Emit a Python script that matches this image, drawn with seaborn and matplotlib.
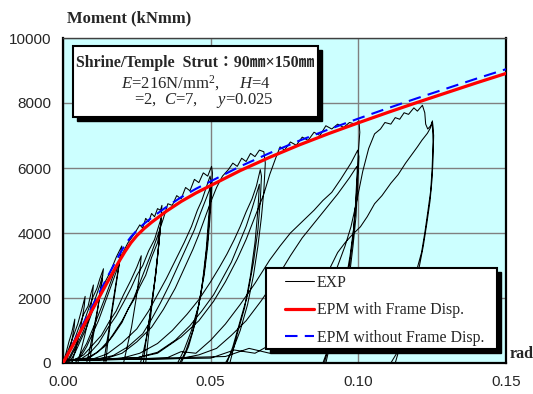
import numpy as np
import pandas as pd
import matplotlib
matplotlib.use("Agg")
import matplotlib.pyplot as plt
from matplotlib.patches import Rectangle
import seaborn as sns

# ---------------- data ----------------
x_ticks = [0.00, 0.05, 0.10, 0.15]
x_tick_labels = ["0.00", "0.05", "0.10", "0.15"]
y_ticks = [0, 2000, 4000, 6000, 8000, 10000]
y_tick_labels = ["0", "2000", "4000", "6000", "8000", "10000"]

# EPM with frame displacement (red)
epm_with_x = [0.0, 0.005, 0.010, 0.015, 0.019, 0.021, 0.023, 0.025, 0.0275, 0.030, 0.035, 0.040,
              0.045, 0.050, 0.060, 0.070, 0.080, 0.090, 0.100, 0.110, 0.120, 0.130, 0.140, 0.150]
epm_with_m = [0, 820, 1650, 2480, 3130, 3430, 3700, 3920, 4140, 4330, 4670, 4970,
              5230, 5460, 5920, 6330, 6710, 7060, 7390, 7710, 8020, 8320, 8620, 8910]

# EPM without frame displacement (blue dashed)
epm_wo_x = [0.0, 0.005, 0.010, 0.015, 0.019, 0.021, 0.023, 0.025, 0.0275, 0.030, 0.035, 0.040,
            0.045, 0.050, 0.060, 0.070, 0.080, 0.090, 0.100, 0.110, 0.120, 0.130, 0.140, 0.150]
epm_wo_m = [0, 880, 1760, 2640, 3320, 3640, 3880, 4080, 4290, 4470, 4800, 5100,
            5360, 5590, 6050, 6460, 6840, 7190, 7520, 7840, 8150, 8450, 8750, 9040]

# EXP : cyclic test record, small cycles
exp_c1_x = [0.000, 0.001, 0.002, 0.003, 0.004, 0.0038, 0.003, 0.002, 0.001, -0.002,
            -0.001, 0.001, 0.003, 0.005, 0.0065, 0.0075, 0.0072, 0.006, 0.0045, 0.003, -0.002]
exp_c1_m = [0, 300, 650, 950, 1350, 1100, 700, 300, 0, -900,
            -300, 200, 700, 1200, 1700, 2050, 1750, 1100, 500, 0, -900]

exp_c2_x = [-0.001, 0.001, 0.003, 0.005, 0.007, 0.0085, 0.0095, 0.0103, 0.0099, 0.009, 0.0075, 0.006, 0.005, 0.001,
            0.000, 0.002, 0.004, 0.006, 0.008, 0.010, 0.0115, 0.0125, 0.0137, 0.0132, 0.012, 0.0105, 0.009, 0.008, 0.003]
exp_c2_m = [-300, 100, 500, 1000, 1500, 1750, 2150, 2400, 2000, 1500, 900, 350, 0, -900,
            -200, 150, 500, 950, 1500, 2000, 2300, 2600, 2900, 2500, 1800, 1100, 400, 0, -900]

exp_c3_x = [0.001, 0.003, 0.005, 0.007, 0.009, 0.011, 0.0125, 0.0134, 0.0128, 0.0115, 0.010, 0.009, 0.004,
            0.002, 0.004, 0.006, 0.008, 0.010, 0.012, 0.014, 0.016, 0.018, 0.0199, 0.0192, 0.018, 0.0168, 0.0155, 0.0145, 0.0138, 0.008,
            0.004, 0.006, 0.008, 0.010, 0.012, 0.014, 0.016, 0.018, 0.0195, 0.0188, 0.0175, 0.016, 0.015, 0.0145, 0.009,
            0.003, 0.007, 0.010, 0.013, 0.0155, 0.018, 0.0205, 0.023, 0.025, 0.0265, 0.026, 0.0248, 0.0232, 0.0215, 0.0205, 0.015]
exp_c3_m = [-100, 250, 600, 1000, 1500, 2000, 2400, 2700, 2300, 1500, 700, 0, -900,
            0, 300, 700, 1100, 1600, 2000, 2450, 2800, 3250, 3600, 3150, 2500, 1800, 1000, 450, 0, -900,
            0, 200, 500, 900, 1300, 1800, 2300, 2800, 3300, 2900, 2100, 1200, 500, 0, -900,
            60, 250, 550, 850, 1250, 1600, 2100, 2550, 2950, 3300, 2800, 2000, 1100, 400, 0, -900]

# cycles to 0.033
exp_c4_x = [-0.003, 0.001, 0.005, 0.008, 0.011, 0.014, 0.017, 0.020, 0.022, 0.024, 0.026, 0.027, 0.028, 0.029, 0.030, 0.031, 0.032, 0.033,
            0.0335, 0.0332, 0.0325, 0.0315, 0.030, 0.0285, 0.027, 0.0262, 0.018,
            -0.003, 0.001, 0.006, 0.009, 0.012, 0.015, 0.018, 0.021, 0.023, 0.025, 0.027, 0.029, 0.031, 0.0325, 0.0332,
            0.0328, 0.032, 0.031, 0.0295, 0.028, 0.0272, 0.019,
            -0.003, 0.001, 0.008, 0.011, 0.014, 0.017, 0.020, 0.022, 0.024, 0.026, 0.028, 0.030, 0.032, 0.033,
            0.0325, 0.0315, 0.030, 0.0288, 0.028, 0.020]
exp_c4_m = [-600, 80, 120, 600, 1250, 1950, 2700, 3350, 3700, 3950, 4250, 4150, 4450, 4350, 4600, 4500, 4750, 4700,
            4850, 4400, 3700, 2800, 1800, 900, 250, 0, -900,
            -600, 80, 120, 300, 600, 1050, 1450, 1950, 2300, 2700, 3000, 3450, 3800, 4250, 4450,
            4000, 3300, 2500, 1500, 600, 0, -900,
            -600, 80, 150, 300, 500, 850, 1250, 1650, 1950, 2350, 2700, 3250, 3700, 4200,
            3700, 2800, 1700, 700, 0, -900]

# cycles to 0.050
exp_c5_x = [-0.003, 0.001, 0.008, 0.012, 0.016, 0.020, 0.024, 0.027, 0.030, 0.032, 0.034, 0.0355, 0.037, 0.0385, 0.040,
            0.0415, 0.043, 0.0445, 0.046, 0.0475, 0.049, 0.0503, 0.0506, 0.0503, 0.0497, 0.049, 0.0478, 0.046, 0.0435,
            0.041, 0.0388, 0.030,
            -0.003, 0.001, 0.010, 0.015, 0.020, 0.025, 0.029, 0.032, 0.035, 0.038, 0.041, 0.0435, 0.0455, 0.047, 0.0485,
            0.0498, 0.0502, 0.0498, 0.049, 0.0478, 0.046, 0.044, 0.0415, 0.0395, 0.030,
            -0.003, 0.001, 0.012, 0.017, 0.022, 0.027, 0.030, 0.033, 0.036, 0.039, 0.042, 0.0445, 0.0465, 0.048, 0.0495,
            0.050, 0.0495, 0.0485, 0.047, 0.045, 0.0425, 0.040, 0.031]
exp_c5_m = [-600, 80, 100, 350, 750, 1300, 2000, 2700, 3400, 3900, 4450, 4900, 4850, 5150, 5050,
            5400, 5300, 5650, 5550, 5850, 5750, 6050, 5850, 5200, 4400, 3600, 2700, 1800, 1000,
            400, 0, -900,
            -600, 80, 120, 280, 620, 1050, 1600, 2100, 2600, 3150, 3700, 4200, 4700, 5000, 5400,
            5750, 5550, 4800, 3800, 2800, 1800, 1000, 350, 0, -900,
            -600, 80, 130, 230, 500, 900, 1350, 1850, 2400, 3000, 3600, 4100, 4600, 4950, 5300,
            5550, 4700, 3500, 2300, 1300, 500, 0, -900]

# cycles to 0.067
exp_c6_x = [-0.003, 0.001, 0.015, 0.020, 0.025, 0.030, 0.034, 0.038, 0.041, 0.044, 0.046, 0.048, 0.050, 0.052, 0.054,
            0.056, 0.0575, 0.059, 0.0605, 0.062, 0.0635, 0.065, 0.0665, 0.068, 0.0685, 0.068, 0.0672, 0.066, 0.0645,
            0.0625, 0.060, 0.0575, 0.055, 0.045,
            -0.003, 0.001, 0.020, 0.026, 0.032, 0.037, 0.042, 0.046, 0.050, 0.053, 0.0555, 0.058, 0.060, 0.062, 0.064,
            0.0655, 0.0668, 0.0672, 0.0668, 0.066, 0.0645, 0.0625, 0.060, 0.0575, 0.0555, 0.046,
            -0.003, 0.001, 0.025, 0.032, 0.038, 0.043, 0.047, 0.051, 0.054, 0.057, 0.0595, 0.062, 0.064, 0.0655, 0.0665,
            0.066, 0.065, 0.0635, 0.0615, 0.059, 0.0565, 0.048]
exp_c6_m = [-600, 80, 150, 300, 650, 1100, 1650, 2300, 2900, 3500, 3950, 4450, 4950, 5400, 5750,
            5950, 6150, 6050, 6300, 6200, 6450, 6350, 6550, 6500, 6150, 5300, 4500, 3600, 2700,
            1800, 1000, 400, 0, -900,
            -600, 80, 150, 300, 600, 1000, 1500, 1950, 2500, 2950, 3350, 3800, 4200, 4650, 5050,
            5450, 5950, 5750, 5000, 4100, 3100, 2100, 1300, 500, 0, -900,
            -600, 80, 160, 330, 700, 1150, 1600, 2100, 2600, 3100, 3650, 4200, 4750, 5200, 5500,
            4700, 3700, 2700, 1700, 900, 0, -900]

# cycles to 0.100
exp_c7_x = [-0.003, 0.001, 0.025, 0.032, 0.040, 0.046, 0.051, 0.055, 0.059, 0.062, 0.065, 0.068, 0.070, 0.072, 0.0735,
            0.075, 0.077, 0.079, 0.081, 0.083, 0.085, 0.087, 0.089, 0.091, 0.093, 0.095, 0.097, 0.099, 0.1002,
            0.1005, 0.1, 0.0995, 0.099, 0.0982, 0.097, 0.095, 0.093, 0.091, 0.089, 0.080,
            -0.003, 0.001, 0.035, 0.040, 0.045, 0.050, 0.055, 0.060, 0.065, 0.070, 0.0735, 0.077, 0.081, 0.085,
            0.088, 0.091, 0.094, 0.0975, 0.0998, 0.1002, 0.0998, 0.0992, 0.0982, 0.097, 0.095, 0.0925, 0.090, 0.088, 0.080,
            -0.003, 0.001, 0.040, 0.046, 0.052, 0.057, 0.062, 0.067, 0.073, 0.077, 0.081, 0.085, 0.089, 0.093,
            0.097, 0.0995, 0.0998, 0.0993, 0.0985, 0.0972, 0.0955, 0.093, 0.0905, 0.0885, 0.081]
exp_c7_m = [-600, 80, 160, 300, 800, 1300, 1900, 2500, 3200, 3800, 4500, 5200, 5800, 6300, 6650,
            6550, 6800, 6700, 6950, 6850, 7100, 7000, 7300, 7200, 7350, 7250, 7400, 7350, 7450,
            7100, 6500, 5700, 4800, 3900, 3000, 2200, 1400, 800, 0, -900,
            -600, 80, 150, 350, 300, 700, 1200, 1800, 2450, 3170, 3600, 4000, 4350, 4700,
            5000, 5250, 5650, 6150, 6550, 6350, 5500, 4500, 3600, 2700, 1900, 1100, 500, 0, -900,
            -600, 80, 140, 250, 450, 850, 1300, 1900, 2700, 3300, 3850, 4300, 4750, 5200,
            5700, 6050, 5900, 5100, 4200, 3300, 2400, 1500, 700, 0, -900]

# cycles to 0.125
exp_c8_x = [-0.003, 0.001, 0.050, 0.058, 0.065, 0.072, 0.078, 0.084, 0.087, 0.090, 0.0929, 0.0955, 0.0975, 0.0995, 0.1015,
            0.1035, 0.1055, 0.1075, 0.109, 0.111, 0.1125, 0.114, 0.1155, 0.117, 0.1188, 0.120, 0.1217, 0.1225,
            0.1228, 0.1235, 0.1245, 0.1251, 0.1253, 0.125, 0.1245, 0.1236, 0.1225, 0.1214, 0.119, 0.117, 0.115,
            0.113, 0.105,
            -0.003, 0.001, 0.055, 0.063, 0.070, 0.076, 0.081, 0.0855, 0.0885, 0.0906, 0.093, 0.0955, 0.098, 0.1007,
            0.103, 0.1055, 0.108, 0.111, 0.1135, 0.116, 0.118, 0.120, 0.1215, 0.1234, 0.1245, 0.1251, 0.1255,
            0.1253, 0.125, 0.1243, 0.1232, 0.122, 0.1205, 0.119, 0.1172, 0.115, 0.1125, 0.104]
exp_c8_m = [-600, 80, 150, 400, 300, 650, 500, 900, 1300, 2000, 2960, 3600, 4190, 5000, 5900,
            6600, 7050, 7200, 7400, 7350, 7550, 7500, 7700, 7650, 7850, 7750, 7930, 7700,
            7350, 7200, 7300, 7450, 6800, 6000, 5300, 4700, 4000, 3400, 2600, 1800, 1000,
            300, -900,
            -600, 80, 200, 450, 300, 700, 1100, 1600, 2300, 2960, 3400, 3700, 3950, 4190,
            4500, 4900, 5150, 5530, 5800, 6150, 6400, 6650, 6850, 7070, 7250, 7425, 7000,
            6300, 5700, 5000, 4300, 3600, 2900, 2200, 1500, 800, 0, -900]

exp_x = exp_c1_x + exp_c2_x + exp_c3_x + exp_c4_x + exp_c5_x + exp_c6_x + exp_c7_x + exp_c8_x
exp_m = exp_c1_m + exp_c2_m + exp_c3_m + exp_c4_m + exp_c5_m + exp_c6_m + exp_c7_m + exp_c8_m

legend_labels = ["EXP", "EPM with Frame Disp.", "EPM without Frame Disp."]

# ---------------- style ----------------
sns.set_theme(style="white")
plt.rcParams["font.family"] = ["Liberation Serif", "Noto Sans CJK JP", "DejaVu Sans"]
plt.rcParams["mathtext.fontset"] = "custom"
plt.rcParams["mathtext.rm"] = "Liberation Serif"
plt.rcParams["mathtext.it"] = "Liberation Serif:italic"
plt.rcParams["mathtext.bf"] = "Liberation Serif:bold"

W, H, DPI = 533, 394, 100
fig = plt.figure(figsize=(W / DPI, H / DPI), dpi=DPI)
L, R, T, B = 63, 506, 38, 363
ax = fig.add_axes([L / W, 1 - B / H, (R - L) / W, (B - T) / H])
ax.set_facecolor("#CCFFFF")

def fx(px):
    return (px - L) / (R - L)

def fy(py):
    return (B - py) / (B - T)

df_exp = pd.DataFrame({"x": exp_x, "m": exp_m})
df_red = pd.DataFrame({"x": epm_with_x, "m": epm_with_m})
df_blue = pd.DataFrame({"x": epm_wo_x, "m": epm_wo_m})

sns.lineplot(data=df_exp, x="x", y="m", sort=False, estimator=None, ax=ax,
             color="black", linewidth=0.75, label=legend_labels[0], zorder=3)
sns.lineplot(data=df_red, x="x", y="m", sort=False, estimator=None, ax=ax,
             color="#FF0000", linewidth=2.3, label=legend_labels[1], zorder=5)
sns.lineplot(data=df_blue, x="x", y="m", sort=False, estimator=None, ax=ax,
             color="#0000FF", linewidth=1.5, linestyle=(0, (6, 3.5)), label=legend_labels[2], zorder=4)

ax.set_xlim(0, 0.15)
ax.set_ylim(0, 10000)
ax.set_xticks(x_ticks)
ax.set_xticklabels(x_tick_labels, family="Liberation Sans", fontsize=11)
ax.set_yticks(y_ticks)
ax.set_yticklabels(y_tick_labels, family="Liberation Sans", fontsize=11)
ax.tick_params(axis="both", length=0)
ax.tick_params(axis="x", pad=9)
ax.tick_params(axis="y", pad=8.5)
ax.set_xlabel("")
ax.set_ylabel("")
ax.grid(True, color="#808080", linewidth=1.0)
ax.set_axisbelow(True)
for s in ["left", "bottom", "right"]:
    ax.spines[s].set_color("black")
    ax.spines[s].set_linewidth(1.6)
ax.spines["top"].set_color("#404040")
ax.spines["top"].set_linewidth(1.0)

# annotation box with shadow
def shadow_box(x0p, x1p, y0p, y1p, z):
    bx0, bx1 = fx(x0p), fx(x1p)
    by0, by1 = fy(y1p), fy(y0p)
    dx, dy = 4 / (R - L), 4 / (B - T)
    ax.add_patch(Rectangle((bx0 + dx, by0 - dy), bx1 - bx0, by1 - by0, transform=ax.transAxes,
                           facecolor="black", edgecolor="black", zorder=z, clip_on=False))
    ax.add_patch(Rectangle((bx0, by0), bx1 - bx0, by1 - by0, transform=ax.transAxes,
                           facecolor="white", edgecolor="black", linewidth=1.5, zorder=z + 1, clip_on=False))

shadow_box(73, 318, 46, 117, 8)
cx = fx((73 + 318) / 2)
ax.text(cx, fy(63), "Shrine/Temple  Strut：90㎜×150㎜", transform=ax.transAxes,
        ha="center", va="center", fontsize=11.4, fontweight="bold", zorder=10)
ax.text(cx, fy(83), r"$E$=216N/mm$^2$,     $H$=4", transform=ax.transAxes,
        ha="center", va="center", fontsize=12, zorder=10)
ax.text(fx(204), fy(101), r"=2,  $C$=7,     $y$=0.025", transform=ax.transAxes,
        ha="center", va="center", fontsize=12, zorder=10)

# legend with its own shadowed frame
shadow_box(266, 497, 268, 349, 15)
leg = ax.legend(loc="upper left", bbox_to_anchor=(fx(285), fy(275)),
                frameon=False, fontsize=11.4, handlelength=1.8, handletextpad=0.2,
                labelspacing=0.72, borderpad=0, borderaxespad=0)
leg.set_zorder(20)

fig.text(129 / W, 1 - 18 / H, "Moment (kNmm)", ha="center", va="center",
         fontsize=12, fontweight="bold")
fig.text(510 / W, 1 - 354 / H, "rad", ha="left", va="center",
         fontsize=11.5, fontweight="bold")

fig.savefig("out.png", dpi=DPI)
